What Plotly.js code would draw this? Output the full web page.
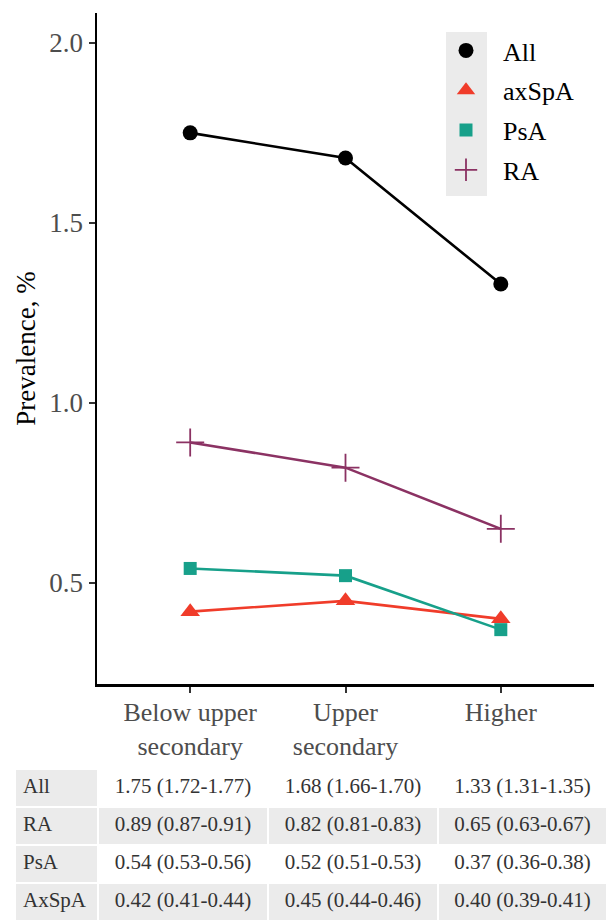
<!DOCTYPE html>
<html>
<head>
<meta charset="utf-8">
<script src="https://cdn.plot.ly/plotly-3.0.1.min.js"></script>
<style>html,body{margin:0;padding:0;background:#fff;} #chart{width:607px;height:922px;}</style>
</head>
<body>
<div id="chart"></div>
<script>
// ---- data ----
var categories = ['Below upper<br>secondary', 'Upper<br>secondary', 'Higher'];
var allVals = [1.75, 1.68, 1.33];
var axspaVals = [0.42, 0.45, 0.40];
var psaVals = [0.54, 0.52, 0.37];
var raVals = [0.89, 0.82, 0.65];
var yTickVals = [0.5, 1.0, 1.5, 2.0];

var tableRowLabels = ['All', 'RA', 'PsA', 'AxSpA'];
var tableBelowUpper = ['1.75 (1.72-1.77)', '0.89 (0.87-0.91)', '0.54 (0.53-0.56)', '0.42 (0.41-0.44)'];
var tableUpper = ['1.68 (1.66-1.70)', '0.82 (0.81-0.83)', '0.52 (0.51-0.53)', '0.45 (0.44-0.46)'];
var tableHigher = ['1.33 (1.31-1.35)', '0.65 (0.63-0.67)', '0.37 (0.36-0.38)', '0.40 (0.39-0.41)'];

// ---- styles ----
var W = 607, H = 922;
var serif = 'Liberation Serif, DejaVu Serif, Noto Serif, serif';
var gray = '#ebebeb';
var colors = {All: '#000000', axSpA: '#f03c2a', PsA: '#17a08a', RA: '#8b3263'};

var traces = [];
function addSeries(name, vals) {
  traces.push({
    type: 'scatter', mode: 'lines', name: name, showlegend: false,
    x: categories, y: vals, line: {color: colors[name], width: 2.6}
  });
}
function addMarkers(name, vals, symbol, size, mline) {
  var m = {symbol: symbol, size: size, color: colors[name]};
  if (mline) m.line = mline;
  traces.push({
    type: 'scatter', mode: 'markers', name: name, legendgroup: name,
    x: categories, y: vals, marker: m, cliponaxis: false
  });
}
addSeries('All', allVals);
addSeries('axSpA', axspaVals);
addSeries('PsA', psaVals);
addSeries('RA', raVals);
addMarkers('All', allVals, 'circle', 15);
addMarkers('axSpA', axspaVals, 'triangle-up', 17);
addMarkers('PsA', psaVals, 'square', 13);
addMarkers('RA', raVals, 'cross-thin', 20, {color: colors.RA, width: 1.8});

var headerVals = [[tableRowLabels[0]], [tableBelowUpper[0]], [tableUpper[0]], [tableHigher[0]]];
var cellVals = [tableRowLabels.slice(1), tableBelowUpper.slice(1), tableUpper.slice(1), tableHigher.slice(1)];
traces.push({
  type: 'table',
  domain: {x: [15 / W, 1], y: [0, 153 / H]},
  columnwidth: [83, 170, 170, 169],
  header: {
    values: headerVals, height: 38,
    fill: {color: [gray, '#ffffff', '#ffffff', '#ffffff']},
    line: {color: '#ffffff', width: 2},
    align: ['left', 'center', 'center', 'center'],
    font: {family: serif, size: 21, color: '#333333'}
  },
  cells: {
    values: cellVals, height: 38,
    fill: {color: [[gray, gray, gray], [gray, '#ffffff', gray], [gray, '#ffffff', gray], [gray, '#ffffff', gray]]},
    line: {color: '#ffffff', width: 2},
    align: ['left', 'center', 'center', 'center'],
    font: {family: serif, size: 21, color: '#333333'}
  }
});

var layout = {
  width: W, height: H,
  margin: {l: 0, r: 0, t: 0, b: 0},
  paper_bgcolor: '#ffffff', plot_bgcolor: '#ffffff',
  font: {family: serif},
  xaxis: {
    domain: [97 / W, 594 / W], range: [-0.6, 2.6], type: 'category',
    showline: true, linecolor: '#000000', linewidth: 2.5,
    ticks: 'outside', ticklen: 6, tickwidth: 2, tickcolor: '#333333',
    tickfont: {family: serif, size: 26, color: '#4d4d4d'},
    ticklabelstandoff: -3,
    showgrid: false, zeroline: false, fixedrange: true
  },
  yaxis: {
    domain: [1 - 684 / H, 1 - 13 / H], range: [0.219, 2.083],
    tickvals: yTickVals, tickformat: '.1f',
    showline: true, linecolor: '#000000', linewidth: 2.5,
    ticks: 'outside', ticklen: 6, tickwidth: 2, tickcolor: '#333333',
    tickfont: {family: serif, size: 27, color: '#4d4d4d'},
    title: {text: 'Prevalence, %', font: {family: serif, size: 27, color: '#000000'}, standoff: 6},
    showgrid: false, zeroline: false, fixedrange: true
  },
  showlegend: true,
  legend: {
    x: 429 / W, y: 1 - 27 / H, xanchor: 'left', yanchor: 'top',
    bgcolor: 'rgba(0,0,0,0)', borderwidth: 0,
    font: {family: serif, size: 26, color: '#000000'},
    tracegroupgap: 3, itemwidth: 64, traceorder: 'grouped'
  },
  shapes: [{
    type: 'rect', xref: 'paper', yref: 'paper', layer: 'below',
    x0: 446 / W, x1: 487 / W, y0: 1 - 196 / H, y1: 1 - 32 / H,
    fillcolor: gray, line: {width: 0}
  }]
};

Plotly.newPlot('chart', traces, layout, {displayModeBar: false, staticPlot: true});
</script>
</body>
</html>
